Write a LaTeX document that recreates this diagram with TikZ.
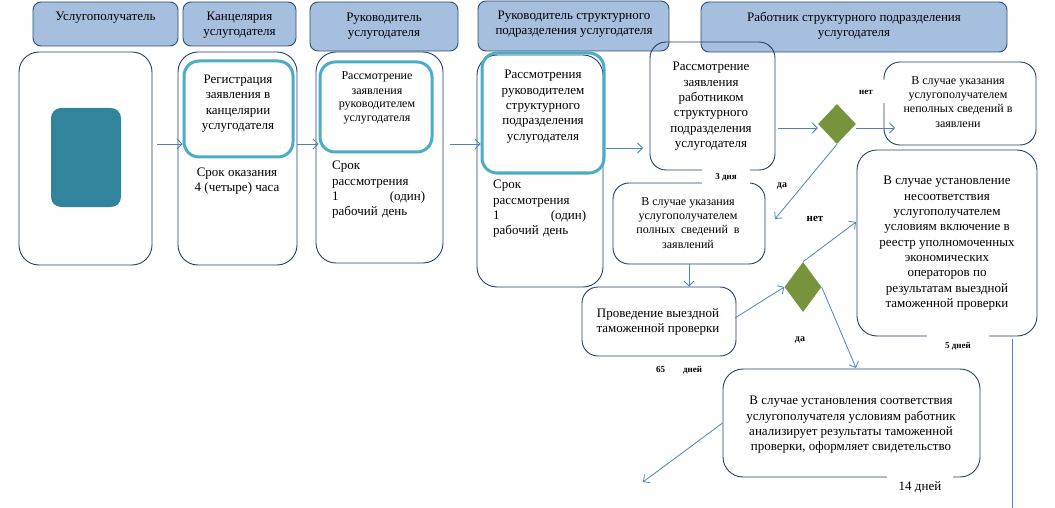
\documentclass[tikz,border=0pt]{standalone}
\usepackage{fontspec}
\setmainfont{Liberation Serif}
\usetikzlibrary{arrows.meta,shapes.geometric}
\definecolor{hdrfill}{HTML}{A7BFDE}
\definecolor{hdrline}{HTML}{2C4D75}
\definecolor{boxline}{HTML}{243F66}
\definecolor{tealfill}{HTML}{31849B}
\definecolor{tealline}{HTML}{4BACC6}
\definecolor{arrowc}{HTML}{4F81BD}
\definecolor{dgreen}{HTML}{77933C}
\tikzset{
 hdr/.style={draw=hdrline, fill=hdrfill, rounded corners=8pt, line width=0.9pt, inner sep=0pt},
 lane/.style={draw=boxline, rounded corners=20pt, line width=0.9pt, inner sep=0pt},
 card/.style={draw=boxline, rounded corners=16pt, line width=0.9pt, inner sep=0pt},
 hilite/.style={draw=tealline, rounded corners=15pt, line width=3pt, inner sep=0pt},
 dec/.style={diamond, fill=dgreen, inner sep=0pt},
 txt/.style={inner sep=0pt, align=center, anchor=north, font=\fontsize{13}{15.3}\selectfont},
 txts/.style={inner sep=0pt, align=center, anchor=north, font=\fontsize{12}{14.3}\selectfont},
 txtj/.style={inner sep=0pt, align=left, anchor=north west, text width=93pt, font=\fontsize{13}{15.3}\selectfont},
 lab/.style={inner sep=1pt, font=\fontsize{9}{10}\selectfont\bfseries},
 arr/.style={draw=arrowc, line width=0.8pt, -{Straight Barb[length=5pt,width=10pt]}},
 plain/.style={draw=arrowc, line width=0.8pt}
}
\begin{document}
\begin{tikzpicture}[x=1pt,y=-1pt]
\useasboundingbox (0,0) rectangle (1055,508);
% headers
\node[hdr, minimum width=145pt, minimum height=44pt] (h1) at (105.5,24) {};
\node[hdr, minimum width=113pt, minimum height=44pt] (h2) at (239.5,24) {};
\node[hdr, minimum width=148pt, minimum height=49pt] (h3) at (384,26.5) {};
\node[hdr, minimum width=191pt, minimum height=50pt] (h4) at (573.5,26) {};
\node[hdr, minimum width=306pt, minimum height=50pt] (h5) at (854,27) {};
\node[txt] (h1t) at (105.5,9.5) {\strut Услугополучатель};
\node[txt] (h2t) at (239.5,9.5) {\strut Канцелярия\\услугодателя};
\node[txt] (h3t) at (384,10.5) {\strut Руководитель\\услугодателя};
\node[txt] (h4t) at (574,8.5) {\strut Руководитель структурного\\подразделения услугодателя};
\node[txt] (h5t) at (854,10.5) {\strut Работник структурного подразделения\\услугодателя};
% lane boxes
\node[lane, minimum width=133pt, minimum height=213pt] (ub) at (85.5,158.5) {};
\node[fill=tealfill, rounded corners=10pt, minimum width=70pt, minimum height=99pt, inner sep=0pt] (tb) at (86,157.5) {};
\node[lane, minimum width=119pt, minimum height=213pt] (kb) at (237.5,158.5) {};
\node[hilite, minimum width=109pt, minimum height=96pt] (kin) at (238.5,109) {};
\node[txt] (kt) at (238,72.5) {\strut Регистрация\\заявления в\\канцелярии\\услугодателя};
\node[txt] (kst) at (237,165.5) {\strut Срок оказания\\4 (четыре) часа};
\node[lane, minimum width=127pt, minimum height=211pt] (rb) at (379.5,157.5) {};
\node[hilite, minimum width=112pt, minimum height=90pt] (rin) at (376,107) {};
\node[txts, font=\fontsize{12}{14}\selectfont] (rt) at (377,70) {\strut Рассмотрение\\заявления\\руководителем\\услугодателя};
\node[txtj] (rst) at (332,159) {\strut Срок\\рассмотрения\\1\hskip 0pt plus 1fill (один)\\рабочий день};
\node[lane, minimum width=126pt, minimum height=232pt] (rsb) at (540,171) {};
\node[hilite, minimum width=122pt, minimum height=120pt] (rsin) at (543,113) {};
\node[txt] (rsit) at (543,68) {\strut Рассмотрения\\руководителем\\структурного\\подразделения\\услугодателя};
\node[txtj] (rsst) at (493,178) {\strut Срок\\рассмотрения\\1\hskip 0pt plus 1fill (один)\\рабочий день};
% worker lane
\node[card, minimum width=125pt, minimum height=128pt] (wb) at (712.5,106) {};
\node[txt] (wt) at (711,60) {\strut Рассмотрение\\заявления\\работником\\структурного\\подразделения\\услугодателя};
\node[dec, minimum width=38pt, minimum height=40pt] (d1) at (837,124) {};
\node[card, minimum width=152pt, minimum height=83pt] (nb) at (960,103.5) {};
\node[txts] (nt) at (958,74) {\strut В случае указания\\услугополучателем\\неполных сведений в\\заявлени};
\node[card, minimum width=152pt, minimum height=81pt] (pb) at (689,223.5) {};
\node[txts] (pt) at (688,195) {\strut В случае указания\\услугополучателем\\полных\hskip 0.5em сведений\hskip 0.5em в\\заявлений};
\node[card, minimum width=154pt, minimum height=69pt] (vb) at (659,321.5) {};
\node[txt, font=\fontsize{13}{14.5}\selectfont] (vt) at (658,307.5) {\strut Проведение выездной\\таможенной проверки};
\node[dec, minimum width=37pt, minimum height=50pt] (d2) at (803,287) {};
\node[lane, minimum width=180pt, minimum height=186pt] (bb) at (947,243) {};
\node[txt] (bt) at (947,174) {\strut В случае установление\\несоответствия\\услугополучателем\\условиям включение в\\реестр уполномоченных\\экономических\\операторов по\\результатам выездной\\таможенной проверки};
\node[lane, minimum width=257pt, minimum height=108pt] (sb) at (851.5,423) {};
\node[txt] (st) at (851,394) {\strut В случае установления соответствия\\услугополучателя условиям работник\\анализирует результаты таможенной\\проверки, оформляет свидетельство};
% connectors
\coordinate (a0s) at (157,144);
\draw[arr] (a0s) -- (kin.west |- a0s);
\draw[arr] (kb.east |- a0s) -- (rin.west |- a0s);
\coordinate (a2s) at (450,144);
\draw[arr] (a2s) -- (rsin.west |- a2s);
\coordinate (a3e) at (643,148);
\draw[arr] (rsin.east |- a3e) -- (a3e);
\coordinate (a4s) at (778,128);
\draw[arr] (a4s) -- (d1.west |- a4s);
\coordinate (a5e) at (895,128);
\draw[arr] (d1.east |- a5e) -- (a5e);
\coordinate (a6e) at (775,219);
\draw[arr] (d1.south) -- (a6e);
\draw[arr] (pb.south) -- (pb.south |- vb.north);
\coordinate (a8s) at (735,318);
\draw[arr] (a8s) -- (d2.west);
\coordinate (a9e) at (856,222);
\draw[arr] (d2.north) -- (a9e);
\coordinate (a10e) at (856,368);
\draw[arr] (d2.east) -- (a10e);
\coordinate (a11e) at (643,482);
\draw[arr] (sb.west) -- (a11e);
\coordinate (ls) at (1012,339);
\coordinate (le) at (1012,508);
\draw[plain] (ls) -- (le);
% labels
\node[lab, fill=white, minimum width=48pt, minimum height=15pt] (l3) at (726,177) {3 дня};
\node[lab, fill=white, minimum width=40pt, minimum height=23pt] (ln1) at (866,92) {нет};
\node[lab, fill=white, font=\fontsize{10}{11}\selectfont\bfseries] (lda1) at (782,186) {да};
\node[inner sep=1pt, font=\fontsize{11}{12}\selectfont\bfseries] (ln2) at (815,219) {нет};
\node[lab, font=\fontsize{10}{11}\selectfont\bfseries] (lda2) at (800,340) {да};
\node[lab] (l65) at (679,370) {65\hspace{18pt}дней};
\node[lab, fill=white, minimum width=62pt, minimum height=22pt] (l5) at (958,346) {5 дней};
\node[inner sep=1pt, fill=white, minimum width=66pt, minimum height=26pt, font=\fontsize{13}{15}\selectfont] (l14) at (920,487) {14 дней};
\end{tikzpicture}
\end{document}
